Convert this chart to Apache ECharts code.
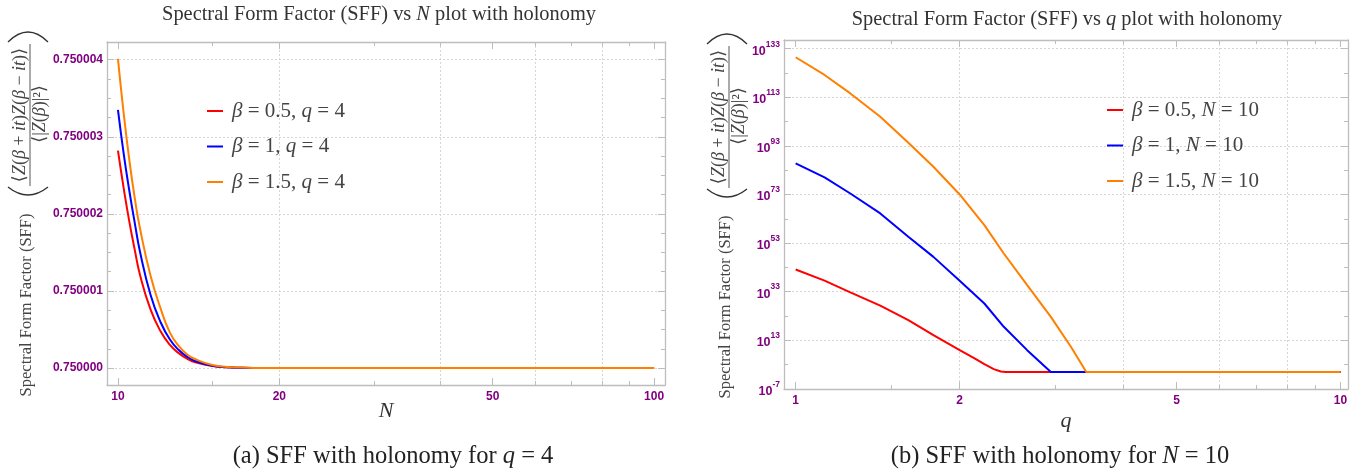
<!DOCTYPE html>
<html>
<head>
<meta charset="utf-8">
<script src="https://cdn.jsdelivr.net/npm/echarts@6/dist/echarts.min.js"></script>
<style>
  html, body { margin: 0; padding: 0; background: #ffffff; }
  #chart { width: 1364px; height: 470px; }
</style>
</head>
<body>
<div id="chart"></div>
<script>
// ---------- Panel (a): SFF against N at q = 4 ----------
const nValues = [10, 10.25, 10.5, 10.75, 11, 11.5, 12, 12.5, 13, 13.5, 14, 15, 16, 17, 18, 20, 25, 30, 40, 50, 60, 70, 80, 90, 100];
const sffNBeta05 = [0.75000282, 0.75000233, 0.7500019, 0.75000153, 0.7500012, 0.75000076, 0.75000048, 0.7500003, 0.75000019, 0.750000115, 0.75000007, 0.750000025, 0.750000009, 0.7500000035, 0.7500000013, 0.7500000002, 0.75, 0.75, 0.75, 0.75, 0.75, 0.75, 0.75, 0.75, 0.75];
const sffNBeta1 = [0.75000335, 0.75000278, 0.7500023, 0.75000188, 0.7500015, 0.75000095, 0.7500006, 0.75000037, 0.75000023, 0.75000014, 0.750000085, 0.75000003, 0.750000011, 0.750000004, 0.7500000015, 0.7500000002, 0.75, 0.75, 0.75, 0.75, 0.75, 0.75, 0.75, 0.75, 0.75];
const sffNBeta15 = [0.75000401, 0.7500033, 0.7500027, 0.7500022, 0.7500018, 0.7500012, 0.75000078, 0.75000046, 0.75000028, 0.75000017, 0.75000011, 0.75000004, 0.750000015, 0.750000006, 0.750000002, 0.7500000003, 0.75, 0.75, 0.75, 0.75, 0.75, 0.75, 0.75, 0.75, 0.75];
const namesN = ['β = 0.5, q = 4', 'β = 1, q = 4', 'β = 1.5, q = 4'];
const nTickLabels = [10, 20, 50, 100];
const nMinorTicks = [15, 30, 40, 60, 70, 80, 90];
const nGridLines = [20, 40, 60, 80];
const sffTickLabels = [0.75, 0.750001, 0.750002, 0.750003, 0.750004];

// ---------- Panel (b): SFF against q at N = 10 (values as log10 SFF) ----------
const qBeta05 = [1, 1.13, 1.26, 1.43, 1.61, 1.79, 2, 2.13, 2.22, 2.31, 2.38, 2.43, 10];
const log10SffBeta05 = [42.1, 37.5, 32.7, 27.2, 21.3, 15.1, 8.9, 5.5, 3.1, 1.1, 0.1, -0.125, -0.125];
const qBeta1 = [1, 1.13, 1.26, 1.43, 1.61, 1.79, 2, 2.22, 2.41, 2.66, 2.94, 10];
const log10SffBeta1 = [85.8, 80.0, 73.4, 65.2, 55.6, 47.3, 37.5, 28.1, 18.5, 8.9, -0.125, -0.125];
const qBeta15 = [1, 1.13, 1.26, 1.43, 1.61, 1.79, 2, 2.22, 2.41, 2.66, 2.94, 3.2, 3.415, 10];
const log10SffBeta15 = [129.5, 122.2, 114.6, 105.0, 94.3, 84.4, 73.0, 60.4, 48.7, 35.7, 22.6, 10.3, -0.125, -0.125];
const namesQ = ['β = 0.5, N = 10', 'β = 1, N = 10', 'β = 1.5, N = 10'];
const qTickLabels = [1, 2, 5, 10];
const qMinorTicks = [1.5, 3, 4, 6, 7, 8, 9];
const qGridLines = [2, 4, 6, 8];
const exponentTickLabels = [-7, 13, 33, 53, 73, 93, 113, 133];
const exponentMinorTicks = [3, 23, 43, 63, 83, 103, 123];

// ---------- Text ----------
const titleA = 'Spectral Form Factor (SFF) vs N plot with holonomy';
const titleB = 'Spectral Form Factor (SFF) vs q plot with holonomy';
const captionA = '(a) SFF with holonomy for q = 4';
const captionB = '(b) SFF with holonomy for N = 10';
const yNameText = 'Spectral Form Factor (SFF)';
const yNumerator = '⟨Z(β + it)Z(β − it)⟩';
const yDenominator = '⟨|Z(β)|²⟩';

// ---------- Styling ----------
const COLORS = ['#ff0000', '#0000ff', '#ff8000'];
const PURPLE = '#800080';
const FRAME = '#bdbdbd';
const GRID_LINE = '#d6d6d6';
const SERIF = '"Liberation Serif", "DejaVu Serif", serif';
const SANS = '"Liberation Sans", Arial, sans-serif';

const zip = (xs, ys) => xs.map((x, i) => [x, ys[i]]);
const italicVars = s => s.replace(/([βNq])/g, '{i|$1}');
const italicMath = s => s.replace(/([A-Za-zβ])/g, '{i|$1}');

// the minor ticks of panel (a)'s value axis: quarters between labelled values
const sffMinorTicks = [];
for (let k = 0; k < sffTickLabels.length - 1; k++) {
  for (let j = 1; j <= 3; j++) {
    sffMinorTicks.push(+(sffTickLabels[k] + j * 0.00000025).toFixed(9));
  }
}

// One framed axis: main side (labels), minor ticks, opposite side, and a grid-line carrier
function frameAxes(o) {
  const common = { type: o.type, gridIndex: o.grid, min: o.min, max: o.max, silent: true };
  if (o.type === 'log') common.logBase = 10;
  const tick = (vals, len) => ({ show: true, inside: true, length: len, customValues: vals,
                                 lineStyle: { color: FRAME, width: 1 } });
  const none = { show: false, onZero: false };
  const line = { show: true, onZero: false, lineStyle: { color: FRAME, width: 1.3 } };
  return [
    Object.assign({}, common, { position: o.sides[0], axisLine: line, axisTick: tick(o.major, 7),
      axisLabel: o.label, splitLine: { show: false } }, o.name || {}),
    Object.assign({}, common, { position: o.sides[0], axisLine: none, axisTick: tick(o.minor, 4),
      axisLabel: { show: false }, splitLine: { show: false } }),
    Object.assign({}, common, { position: o.sides[1], axisLine: line, axisTick: tick(o.major, 7),
      axisLabel: { show: false }, splitLine: { show: false } }),
    Object.assign({}, common, { position: o.sides[1], axisLine: none, axisTick: tick(o.minor, 4),
      axisLabel: { show: false }, splitLine: { show: false } }),
    Object.assign({}, common, { position: o.sides[0], axisLine: none,
      axisTick: { show: false, customValues: o.gridLines }, axisLabel: { show: false },
      splitLine: { show: true, lineStyle: { color: GRID_LINE, width: 1, type: [2, 2] } } })
  ];
}

const tickFont = { color: PURPLE, fontFamily: SANS, fontWeight: 'bold', fontSize: 12 };
const axisNameFont = { fontFamily: SERIF, fontStyle: 'italic', fontSize: 22, color: '#333' };

const xAxes = [].concat(
  frameAxes({ type: 'log', grid: 0, min: 9.54, max: 104.8, sides: ['bottom', 'top'],
    major: nTickLabels, minor: nMinorTicks, gridLines: nGridLines,
    label: Object.assign({ show: true, margin: 6, customValues: nTickLabels }, tickFont),
    name: { name: 'N', nameLocation: 'middle', nameGap: 15, nameMoveOverlap: false,
      nameTextStyle: axisNameFont } }),
  frameAxes({ type: 'log', grid: 1, min: 0.952, max: 10.32, sides: ['bottom', 'top'],
    major: qTickLabels, minor: qMinorTicks, gridLines: qGridLines,
    label: Object.assign({ show: true, margin: 6, customValues: qTickLabels }, tickFont),
    name: { name: 'q', nameLocation: 'middle', nameGap: 21, nameMoveOverlap: false,
      nameTextStyle: axisNameFont } })
);

const yAxes = [].concat(
  frameAxes({ type: 'value', grid: 0, min: 0.74999978, max: 0.75000423, sides: ['left', 'right'],
    major: sffTickLabels, minor: sffMinorTicks, gridLines: sffTickLabels,
    label: Object.assign({ show: true, margin: 4, customValues: sffTickLabels,
      formatter: v => v.toFixed(6) }, tickFont) }),
  frameAxes({ type: 'value', grid: 1, min: -7.1, max: 136.6, sides: ['left', 'right'],
    major: exponentTickLabels, minor: exponentMinorTicks, gridLines: exponentTickLabels,
    label: { show: true, margin: 4, customValues: exponentTickLabels,
      formatter: v => '{b|10}{s|' + v + '}',
      rich: {
        b: { color: PURPLE, fontFamily: SANS, fontWeight: 'bold', fontSize: 12.5, lineHeight: 18, verticalAlign: 'bottom' },
        s: { color: PURPLE, fontFamily: SANS, fontWeight: 'bold', fontSize: 8.5, lineHeight: 9, verticalAlign: 'top' }
      } } })
);

function lineSeries(name, data, colorIdx, axisIdx, smooth) {
  return {
    type: 'line', name: name, data: data, xAxisIndex: axisIdx, yAxisIndex: axisIdx,
    showSymbol: false, symbol: 'none', smooth: smooth,
    color: COLORS[colorIdx], lineStyle: { width: 2, color: COLORS[colorIdx] }, z: 5 + colorIdx,
    silent: true
  };
}

const series = [
  lineSeries(namesN[0], zip(nValues, sffNBeta05), 0, 0, 0.5),
  lineSeries(namesN[1], zip(nValues, sffNBeta1), 1, 0, 0.5),
  lineSeries(namesN[2], zip(nValues, sffNBeta15), 2, 0, 0.5),
  lineSeries(namesQ[0], zip(qBeta05, log10SffBeta05), 0, 5, false),
  lineSeries(namesQ[1], zip(qBeta1, log10SffBeta1), 1, 5, false),
  lineSeries(namesQ[2], zip(qBeta15, log10SffBeta15), 2, 5, false)
];

function legendAt(names, left, top) {
  return {
    data: names, left: left, top: top, orient: 'vertical', icon: 'rect',
    itemWidth: 16, itemHeight: 2, itemGap: 13.5, selectedMode: false,
    formatter: italicVars,
    textStyle: { fontFamily: SERIF, fontSize: 21, lineHeight: 22, color: '#444', padding: [0, 0, 0, 4],
      rich: { i: { fontFamily: SERIF, fontSize: 21, lineHeight: 22, fontStyle: 'italic', color: '#444' } } }
  };
}

function centeredText(x, y, size, color, richText) {
  return {
    type: 'text', x: x, y: y, silent: true,
    style: { text: richText, fontFamily: SERIF, fontSize: size, fill: color,
      align: 'center', verticalAlign: 'middle',
      rich: { i: { fontFamily: SERIF, fontSize: size, fontStyle: 'italic', fill: color } } }
  };
}

// Rotated y-axis caption: name plus the bracketed ratio of partition functions
function yNameGroup(gx, gy) {
  const ink = '#444';
  const math = (lx, ly, s) => ({
    type: 'text', x: lx, y: ly,
    style: { text: italicMath(s), fontFamily: SERIF, fontSize: 18, fill: ink, align: 'center', verticalAlign: 'middle',
      rich: { i: { fontFamily: SERIF, fontSize: 18, fontStyle: 'italic', fill: ink } } }
  });
  return {
    type: 'group', x: gx, y: gy, rotation: Math.PI / 2, silent: true,
    children: [
      { type: 'text', x: -90, y: -3,
        style: { text: yNameText, fontFamily: SERIF, fontSize: 16.5, fill: ink, align: 'center', verticalAlign: 'middle' } },
      math(100, -10, yNumerator),
      { type: 'line', shape: { x1: 29, y1: 0, x2: 171, y2: 0 }, style: { stroke: ink, lineWidth: 0.9 } },
      math(101, 10, yDenominator),
      { type: 'bezierCurve', shape: { x1: 28, y1: -22, x2: 28, y2: 18, cpx1: 12, cpy1: -2 },
        style: { stroke: '#333', lineWidth: 1.3, fill: null } },
      { type: 'bezierCurve', shape: { x1: 173, y1: -22, x2: 173, y2: 18, cpx1: 193, cpy1: -2 },
        style: { stroke: '#333', lineWidth: 1.3, fill: null } }
    ]
  };
}

const option = {
  animation: false,
  backgroundColor: '#ffffff',
  textStyle: { fontFamily: SERIF },
  grid: [
    { left: 107, top: 42, width: 558, height: 343, containLabel: false },
    { left: 784, top: 40, width: 564, height: 349, containLabel: false }
  ],
  xAxis: xAxes,
  yAxis: yAxes,
  legend: [legendAt(namesN, 202, 95), legendAt(namesQ, 1102, 94)],
  series: series,
  graphic: [
    centeredText(379, 15, 20.4, '#333', titleA.replace(/ N /, ' {i|N} ')),
    centeredText(1067, 20, 20.4, '#333', titleB.replace(/ q /, ' {i|q} ')),
    centeredText(393, 457, 24.5, '#222', captionA.replace(/for ([Nq])/, 'for {i|$1}')),
    centeredText(1060, 457, 24.5, '#222', captionB.replace(/for ([Nq])/, 'for {i|$1}')),
    yNameGroup(30, 215),
    yNameGroup(729, 217)
  ]
};

const chart = echarts.init(document.getElementById('chart'), null, { renderer: 'canvas' });
chart.setOption(option);
</script>
</body>
</html>
